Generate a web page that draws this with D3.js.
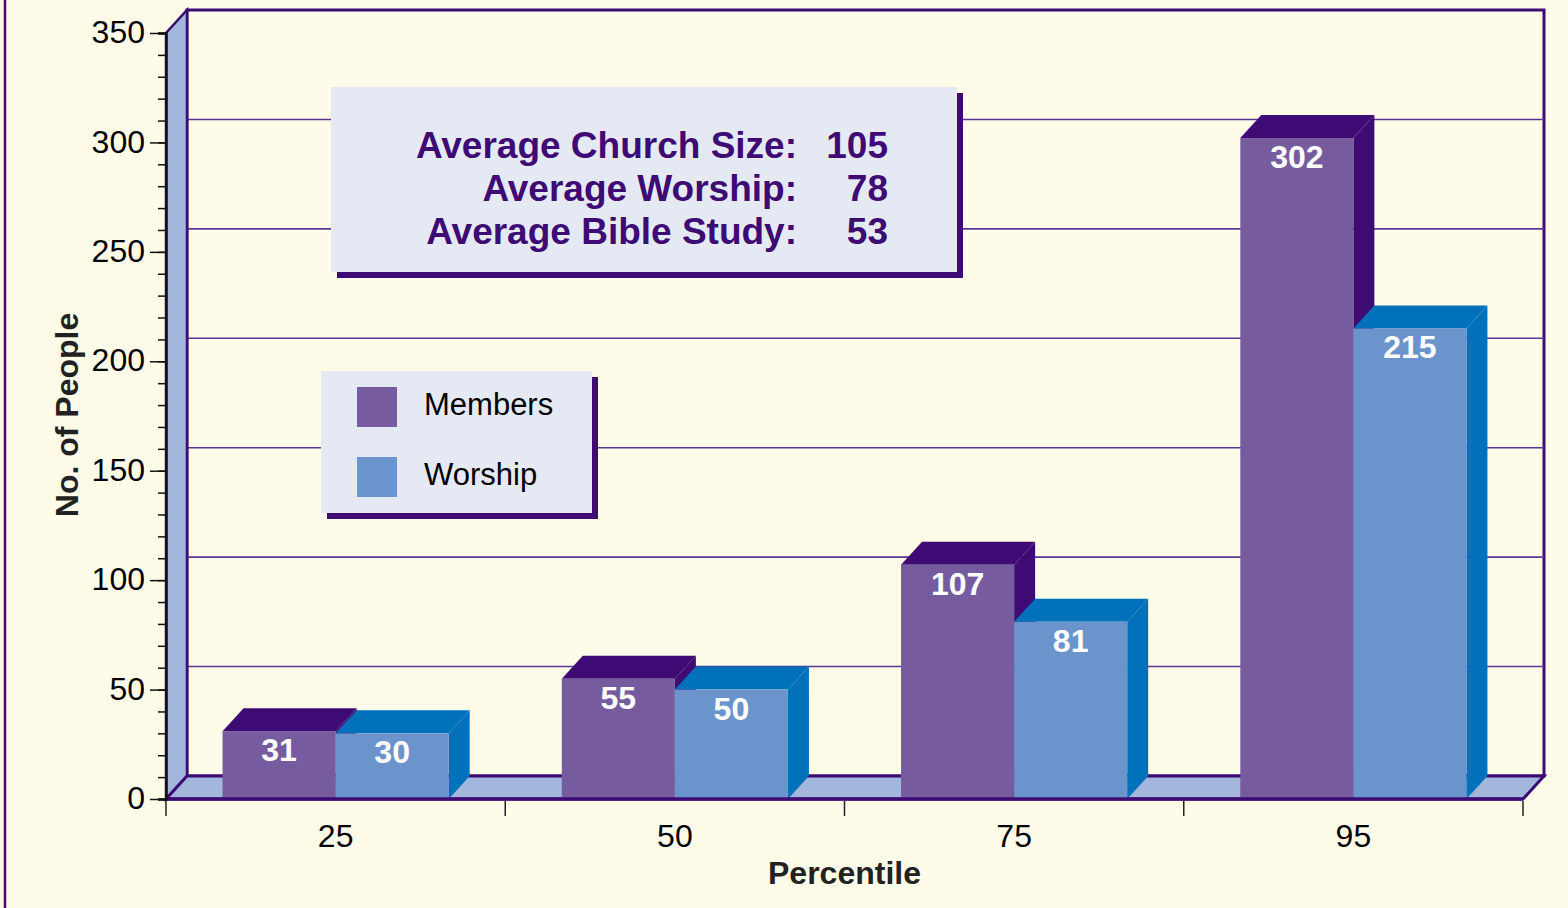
<!DOCTYPE html>
<html>
<head>
<meta charset="utf-8">
<script src="https://cdn.jsdelivr.net/npm/d3@7"></script>
<style>
  body { margin: 0; background: #fffbe9; }
  svg { display: block; font-family: "Liberation Sans", Arial, sans-serif; }
</style>
</head>
<body>
<div id="chart"></div>
<script>
// Chart data
var categories = ["25", "50", "75", "95"];
var seriesNames = ["Members", "Worship"];
var members = [31, 55, 107, 302];
var worship = [30, 50, 81, 215];
var yTicks = [0, 50, 100, 150, 200, 250, 300, 350];
var statLabels = ["Average Church Size:", "Average Worship:", "Average Bible Study:"];
var statValues = [105, 78, 53];

var width = 1568, height = 908;
var depthX = 21, depthY = -23;

var frontColor = { Members: "#765c9f", Worship: "#6a94cb" };
var darkColor = { Members: "#3e0b74", Worship: "#0271bb" };
var purple = "#3e0b74";
var wallFill = "#a3b6dc";

var svg = d3.select("#chart").append("svg")
  .attr("width", width)
  .attr("height", height);

// scales
var y = d3.scaleLinear().domain([0, 350]).range([799, 33]);
var x = d3.scaleBand().domain(categories).range([166, 1523]);
var xs = d3.scaleBand().domain(seriesNames).range([0, x.bandwidth()]).paddingOuter(0.5);

var x0 = x.range()[0], x1 = x.range()[1];
var yBase = y(0), yTop = y(350);

// left page border
svg.append("line")
  .attr("x1", 5).attr("x2", 5).attr("y1", 0).attr("y2", height)
  .attr("stroke", purple).attr("stroke-width", 2.5);

// back wall
svg.append("rect")
  .attr("x", x0 + depthX).attr("y", yTop + depthY)
  .attr("width", x1 - x0).attr("height", yBase - yTop)
  .attr("fill", "#fffbe9")
  .attr("stroke", purple).attr("stroke-width", 3);

// gridlines on the back wall
svg.selectAll(".grid")
  .data(yTicks.slice(1, -1))
  .enter().append("line")
  .attr("class", "grid")
  .attr("x1", x0 + depthX).attr("x2", x1 + depthX)
  .attr("y1", function (d) { return y(d) + depthY; })
  .attr("y2", function (d) { return y(d) + depthY; })
  .attr("stroke", "#5b3596").attr("stroke-width", 1.6);

// left wall
svg.append("path")
  .attr("d", "M" + x0 + "," + yBase + "L" + x0 + "," + yTop +
    "L" + (x0 + depthX) + "," + (yTop + depthY) +
    "L" + (x0 + depthX) + "," + (yBase + depthY) + "Z")
  .attr("fill", wallFill)
  .attr("stroke", purple).attr("stroke-width", 2.5);

// floor
svg.append("path")
  .attr("d", "M" + x0 + "," + yBase + "L" + x1 + "," + yBase +
    "L" + (x1 + depthX) + "," + (yBase + depthY) +
    "L" + (x0 + depthX) + "," + (yBase + depthY) + "Z")
  .attr("fill", wallFill)
  .attr("stroke", purple).attr("stroke-width", 3);

// bars
var rows = categories.map(function (c, i) {
  return { cat: c, values: [
    { name: "Members", value: members[i] },
    { name: "Worship", value: worship[i] }
  ] };
});

rows.forEach(function (row) {
  row.values.forEach(function (d) {
    var bx = x(row.cat) + xs(d.name);
    var bw = xs.bandwidth();
    var top = y(d.value);
    var g = svg.append("g");
    // top face
    g.append("path")
      .attr("d", "M" + bx + "," + top + "L" + (bx + bw) + "," + top +
        "L" + (bx + bw + depthX) + "," + (top + depthY) +
        "L" + (bx + depthX) + "," + (top + depthY) + "Z")
      .attr("fill", darkColor[d.name]);
    // side face
    g.append("path")
      .attr("d", "M" + (bx + bw) + "," + top + "L" + (bx + bw + depthX) + "," + (top + depthY) +
        "L" + (bx + bw + depthX) + "," + (yBase + depthY) +
        "L" + (bx + bw) + "," + yBase + "Z")
      .attr("fill", darkColor[d.name]);
    // front face
    g.append("rect")
      .attr("x", bx).attr("y", top)
      .attr("width", bw).attr("height", yBase - top)
      .attr("fill", frontColor[d.name]);
    // value label
    g.append("text")
      .attr("x", bx + bw / 2).attr("y", top + 30)
      .attr("text-anchor", "middle")
      .attr("fill", "#fff")
      .attr("font-weight", "bold")
      .attr("font-size", 32)
      .text(d.value);
  });
});

// front floor edge
svg.append("line")
  .attr("x1", x0).attr("x2", x1).attr("y1", yBase).attr("y2", yBase)
  .attr("stroke", purple).attr("stroke-width", 3.5);

// y axis with minor ticks
var yAxis = svg.append("g")
  .attr("transform", "translate(" + x0 + ",0)")
  .call(d3.axisLeft(y).tickValues(d3.range(0, 351, 10)).tickSize(8).tickFormat(""));
yAxis.select(".domain").attr("stroke", "#111").attr("stroke-width", 2.5);
yAxis.selectAll(".tick line").attr("stroke", "#111").attr("stroke-width", 1.5);

var yMajor = svg.append("g")
  .attr("transform", "translate(" + x0 + ",0)")
  .call(d3.axisLeft(y).tickValues(yTicks).tickSize(16).tickPadding(5));
yMajor.select(".domain").remove();
yMajor.selectAll(".tick line").attr("stroke", "#111").attr("stroke-width", 1.5);
yMajor.selectAll("text")
  .attr("font-size", 32).attr("font-family", "Liberation Sans, Arial, sans-serif")
  .attr("fill", "#000").attr("dy", "0.3em");

// x axis
var xAxis = svg.append("g")
  .attr("transform", "translate(0," + (yBase + 2) + ")")
  .call(d3.axisBottom(x).tickSize(0).tickPadding(23));
xAxis.select(".domain").remove();
xAxis.selectAll("text")
  .attr("font-size", 32).attr("font-family", "Liberation Sans, Arial, sans-serif")
  .attr("fill", "#000");

var edges = categories.map(function (c) { return x(c); }).concat([x1]);
svg.selectAll(".xtick")
  .data(edges)
  .enter().append("line")
  .attr("x1", function (d) { return d; }).attr("x2", function (d) { return d; })
  .attr("y1", yBase + 2).attr("y2", yBase + 17)
  .attr("stroke", "#222").attr("stroke-width", 1.5);

// axis titles
svg.append("text")
  .attr("x", (x0 + x1) / 2).attr("y", 884)
  .attr("text-anchor", "middle")
  .attr("font-weight", "bold").attr("font-size", 32)
  .attr("fill", "#222")
  .text("Percentile");

svg.append("text")
  .attr("transform", "translate(78,415) rotate(-90)")
  .attr("text-anchor", "middle")
  .attr("font-weight", "bold").attr("font-size", 32)
  .attr("fill", "#222")
  .text("No. of People");

// stats box
var boxFill = "#e5e9f4";
svg.append("rect").attr("x", 337).attr("y", 93).attr("width", 626).attr("height", 185).attr("fill", purple);
svg.append("rect").attr("x", 331).attr("y", 87).attr("width", 626).attr("height", 185).attr("fill", boxFill);

svg.selectAll(".statLabel")
  .data(statLabels)
  .enter().append("text")
  .attr("x", 797).attr("y", function (d, i) { return 158 + i * 43; })
  .attr("text-anchor", "end")
  .attr("font-weight", "bold").attr("font-size", 37)
  .attr("fill", purple)
  .text(function (d) { return d; });

svg.selectAll(".statValue")
  .data(statValues)
  .enter().append("text")
  .attr("x", 888).attr("y", function (d, i) { return 158 + i * 43; })
  .attr("text-anchor", "end")
  .attr("font-weight", "bold").attr("font-size", 37)
  .attr("fill", purple)
  .text(function (d) { return d; });

// legend
svg.append("rect").attr("x", 327).attr("y", 377).attr("width", 271).attr("height", 142).attr("fill", purple);
svg.append("rect").attr("x", 321).attr("y", 371).attr("width", 271).attr("height", 142).attr("fill", boxFill);

var legend = svg.selectAll(".legend")
  .data(seriesNames)
  .enter().append("g")
  .attr("transform", function (d, i) { return "translate(357," + (387 + i * 70) + ")"; });

legend.append("rect")
  .attr("width", 40).attr("height", 40)
  .attr("fill", function (d) { return frontColor[d]; });

legend.append("text")
  .attr("x", 67).attr("y", 28)
  .attr("font-size", 31)
  .attr("fill", "#000")
  .text(function (d) { return d; });
</script>
</body>
</html>
